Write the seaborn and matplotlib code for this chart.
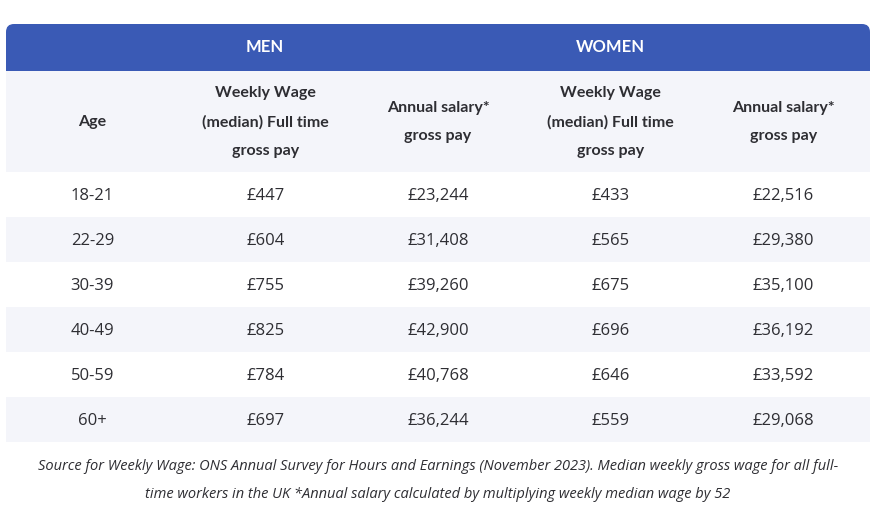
import numpy as np
import pandas as pd
import seaborn as sns
import matplotlib.pyplot as plt
from matplotlib.colors import ListedColormap
from matplotlib.patches import FancyBboxPatch, Rectangle

# données du tableau
ages = ['18-21', '22-29', '30-39', '40-49', '50-59', '60+']
men_weekly = [447, 604, 755, 825, 784, 697]
men_annual = [23244, 31408, 39260, 42900, 40768, 36244]
women_weekly = [433, 565, 675, 696, 646, 559]
women_annual = [22516, 29380, 35100, 36192, 33592, 29068]

group_labels = ['', 'MEN', '', 'WOMEN', '']
col_labels = ['Age', 'Weekly Wage\n(median) Full time\ngross pay', 'Annual salary*\ngross pay',
              'Weekly Wage\n(median) Full time\ngross pay', 'Annual salary*\ngross pay']
footer = ['Source for Weekly Wage: ONS Annual Survey for Hours and Earnings (November 2023). Median weekly gross wage for all full-',
          'time workers in the UK *Annual salary calculated by multiplying weekly median wage by 52']

blue = '#3a5ab5'
light = '#f4f5fa'
dark = '#2e2e33'

sns.set_theme(style='white')
plt.rcParams['font.family'] = ['Open Sans', 'DejaVu Sans']

W, H = 887, 519
fig = plt.figure(figsize=(W / 100, H / 100), dpi=100)

# axe de fond en pixels
bg = fig.add_axes([0, 0, 1, 1])
bg.set_xlim(0, W)
bg.set_ylim(H, 0)
bg.axis('off')

x0, x1 = 6, 870
col_w = (x1 - x0) / 5
bg.add_patch(FancyBboxPatch((x0, 24), x1 - x0, 47, boxstyle='round,pad=0,rounding_size=8',
                            fc=blue, ec='none'))
bg.add_patch(Rectangle((x0, 50), x1 - x0, 21, fc=blue, ec='none'))
bg.add_patch(Rectangle((x0, 71), x1 - x0, 101, fc=light, ec='none'))

for i, (g, c) in enumerate(zip(group_labels, col_labels)):
    cx = x0 + col_w * (i + 0.5)
    if g:
        bg.text(cx, 47, g, ha='center', va='center', color='white', fontsize=12,
                fontweight='bold', family=['Lato', 'DejaVu Sans'])
    bg.text(cx, 122, c, ha='center', va='center', color=dark, fontsize=11.5,
            fontweight='bold', family=['Lato', 'DejaVu Sans'], linespacing=2.3)

for k, line in enumerate(footer):
    bg.text(438, 466 + 28 * k, line, ha='center', va='center', color=dark,
            fontsize=10.5, style='italic', family=['Open Sans', 'DejaVu Sans'])

# corps du tableau avec une heatmap à bandes
df = pd.DataFrame({
    'Age': ages,
    'mw': ['£{:,}'.format(v) for v in men_weekly],
    'ma': ['£{:,}'.format(v) for v in men_annual],
    'ww': ['£{:,}'.format(v) for v in women_weekly],
    'wa': ['£{:,}'.format(v) for v in women_annual],
})
stripes = np.tile((np.arange(len(ages)) % 2)[:, None], (1, 5))

ax = fig.add_axes([x0 / W, (H - 442) / H, (x1 - x0) / W, 270 / H])
sns.heatmap(stripes, ax=ax, cmap=ListedColormap(['white', light]), cbar=False,
            annot=df.values, fmt='', annot_kws={'color': dark, 'fontsize': 12},
            xticklabels=False, yticklabels=False, linewidths=0)
for t in ax.texts:
    x, y = t.get_position()
    t.set_position((x, y + 0.04))
ax.axis('off')

fig.savefig('out.png', dpi=100)
